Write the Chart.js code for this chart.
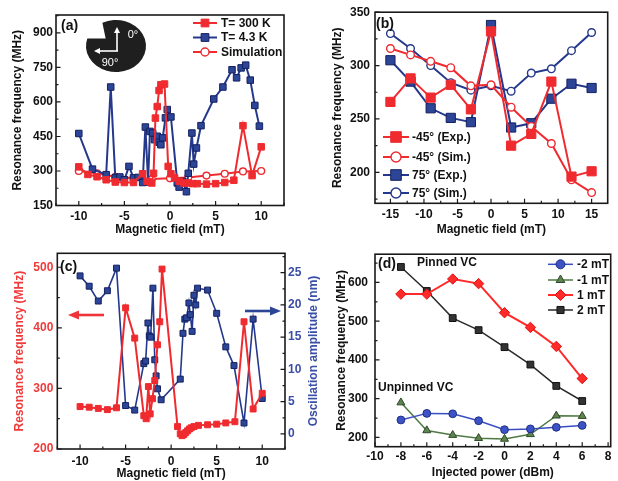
<!DOCTYPE html>
<html><head><meta charset="utf-8">
<script src="https://cdn.jsdelivr.net/npm/chart.js@4.4.1/dist/chart.umd.min.js"></script>
<style>
html,body{margin:0;padding:0;background:#fff;}
#wrap{position:relative;width:618px;height:481px;overflow:hidden;background:#fff;}
canvas{position:absolute;}
</style></head><body>
<div id="wrap">
<canvas id="ca"></canvas><canvas id="cb"></canvas><canvas id="cc"></canvas><canvas id="cd"></canvas>
</div>
<script>
// ---------- DATA ----------
// (a)
const a300X = [-10,-9,-8,-7,-6,-5,-4,-3,-2.5,-2,-1.8,-1.6,-1.4,-1.2,-1.0,-0.6,-0.2,0.1,0.5,1.0,1.5,2.0,2.5,3.0,4.0,5.0,6.0,7.0,8.0,9.0,10.0];
const a300Y = [318,285,275,262,252,250,250,288,255,248,290,530,580,650,675,678,320,288,270,255,248,248,245,245,243,245,250,260,497,280,405];
const a43X = [-10,-8.5,-7,-6.5,-6,-5.5,-5,-4.5,-4,-3.5,-3,-2.7,-2.4,-2.2,-1.9,-1.7,-1.4,-1.2,-1.0,-0.8,-0.5,-0.3,0.1,0.8,1.0,1.4,1.8,2.0,2.4,2.6,2.9,3.4,4.8,5.8,6.8,7.3,7.8,8.3,8.8,9.3,9.8];
const a43Y = [463,308,284,665,270,274,262,320,270,272,250,491,252,472,465,436,451,425,414,444,531,567,535,248,230,255,210,290,465,330,400,497,613,665,740,705,748,760,695,585,495];
const aSimX = [-10,-8,-6,-4,-2,0,2,4,6,8,10];
const aSimY = [300,290,275,268,265,268,272,280,288,298,300];
const aXTicks = [-10,-5,0,5,10];
const aYTicks = [150,300,450,600,750,900];
// (b)
const bX = [-15,-12,-9,-6,-3,0,3,6,9,12,15];
const bExpM45 = [266,288,270,282,259,332,225,236,285,196,201];
const bSimM45 = [316,310,304,298,281,282,261,243,227,193,181];
const bExp75 = [305,285,260,251,247,338,242,246,269,283,279];
const bSim75 = [330,316,300,284,277,281,276,293,297,314,331];
const bXTicks = [-15,-10,-5,0,5,10,15];
const bYTicks = [200,250,300,350];
// (c)
const cFreqX = [-10,-9,-8,-7,-6,-5,-4,-3,-2.75,-2.5,-2.3,-2.05,-1.8,-1.5,-1.25,-1.0,0.7,1.0,1.2,1.4,1.6,1.8,2.0,2.2,2.5,3.0,4.0,5.0,6.0,7.0,8.0,9.0,10.0];
const cFreqY = [270,269,267,265,268,433,383,255,250,303,258,283,313,372,410,497,237,225,222,224,227,230,233,235,237,239,240,241,243,245,410,266,292];
const cAmpX = [-10,-9,-8,-7,-6,-5,-4,-3,-2.8,-2.55,-2.4,-2.25,-2.0,-1.8,-1.65,-1.5,-1.1,1.0,1.3,1.5,1.7,1.95,2.1,2.3,2.5,2.7,2.9,4.0,5.0,6.0,6.9,8.0,9.0,10.0];
const cAmpY = [24.5,22.9,20.6,22.2,25.7,4.4,3.7,10.9,11.3,17.2,15.2,15.0,22.6,11.5,9.0,7.0,5.3,8.5,15.6,17.8,18.0,20.3,18.5,15.9,21.5,20.0,22.6,22.3,18.7,13.5,10.6,1.7,17.8,5.5];
const cXTicks = [-10,-5,0,5,10];
const cYTicks = [200,300,400,500];
const cY2Ticks = [0,5,10,15,20,25];
// (d)
const dX = [-8,-6,-4,-2,0,2,4,6];
const dM2 = [245,262,261,243,220,222,226,231];
const dM1 = [290,218,206,198,196,208,256,255];
const dP1 = [570,570,609,597,522,484,435,352];
const dP2 = [640,578,508,477,433,388,333,294];
const dXTicks = [-10,-8,-6,-4,-2,0,2,4,6,8];
const dYTicks = [200,300,400,500,600];

// ---------- STYLE ----------
const FF = '"Liberation Sans", Arial, sans-serif';
Chart.defaults.font.family = FF;
Chart.defaults.font.weight = 'bold';
Chart.defaults.font.size = 12;
Chart.defaults.color = '#111';
Chart.defaults.animation = false;

const RED = '#ef2b30', NAVY = '#24388c', NAVYF = '#2c4597';

function pts(xs, ys){ return xs.map((x,i)=>({x:x, y:ys[i]})); }

function axis(o){
  return {
    type:'linear', position:o.position, min:o.min, max:o.max,
    grid:{display:false, drawTicks:false}, border:{display:false},
    ticks:{padding:o.pad, color:o.color||'#111', font:{size:12, weight:'bold'}, maxRotation:0, autoSkip:false,
      callback:v=>String(v)},
    title:{display:!!o.title, text:o.title||'', color:o.titleColor||'#111', font:{size:12, weight:'bold'}, padding:o.titlePad||0},
    afterBuildTicks:s=>{ s.ticks = o.ticks.map(v=>({value:v})); },
    afterFit:s=>{ if(o.width!=null) s.width=o.width; if(o.height!=null) s.height=o.height; }
  };
}

function inTicks(ctx, scale, a){
  const vals = scale.ticks.map(t=>t.value);
  const step = vals[1]-vals[0];
  const all = [];
  let v0 = vals[0];
  while (v0 - step/2 >= scale.min - 1e-9) v0 -= step/2;
  for (let v=v0; v<=scale.max+1e-9; v+=step/2){
    const major = vals.some(t=>Math.abs(t-v)<1e-6);
    all.push({v, major});
  }
  ctx.beginPath();
  all.forEach(t=>{
    const L = t.major?4.5:2.5;
    const p = scale.getPixelForValue(t.v);
    if (scale.position==='bottom'){ ctx.moveTo(p,a.bottom); ctx.lineTo(p,a.bottom-L); }
    else if (scale.position==='left'){ ctx.moveTo(a.left,p); ctx.lineTo(a.left+L,p); }
    else if (scale.position==='right'){ ctx.moveTo(a.right,p); ctx.lineTo(a.right-L,p); }
  });
  ctx.stroke();
}

function arrow(ctx, x0, y0, x1, y1, color, w, hl, hw){
  const ang = Math.atan2(y1-y0, x1-x0);
  const bx = x1 - hl*Math.cos(ang), by = y1 - hl*Math.sin(ang);
  ctx.save();
  ctx.strokeStyle=color; ctx.fillStyle=color; ctx.lineWidth=w;
  ctx.beginPath(); ctx.moveTo(x0,y0); ctx.lineTo(bx,by); ctx.stroke();
  ctx.beginPath();
  ctx.moveTo(x1,y1);
  ctx.lineTo(bx + hw/2*Math.sin(ang), by - hw/2*Math.cos(ang));
  ctx.lineTo(bx - hw/2*Math.sin(ang), by + hw/2*Math.cos(ang));
  ctx.closePath(); ctx.fill();
  ctx.restore();
}

const decor = {
  id:'decor',
  afterDatasetsDraw(chart, args, o){
    const ctx = chart.ctx, a = chart.chartArea;
    ctx.save();
    ctx.strokeStyle='#1a1a1a'; ctx.lineWidth=1.6;
    ctx.strokeRect(a.left, a.top, a.right-a.left, a.bottom-a.top);
    ctx.lineWidth=1.2;
    Object.values(chart.scales).forEach(s=>inTicks(ctx, s, a));
    (o.legend||[]).forEach(e=>{
      const ds = chart.data.datasets[e.ds];
      ctx.strokeStyle = ds.borderColor; ctx.lineWidth = ds.borderWidth;
      ctx.beginPath(); ctx.moveTo(e.x0,e.y); ctx.lineTo(e.x1,e.y); ctx.stroke();
      ctx.fillStyle = ds.pointBackgroundColor; ctx.strokeStyle = ds.pointBorderColor;
      ctx.lineWidth = ds.pointBorderWidth;
      Chart.helpers.drawPoint(ctx, {pointStyle:ds.pointStyle, radius:e.r||ds.pointRadius, rotation:0, borderWidth:ds.pointBorderWidth}, (e.x0+e.x1)/2, e.y);
      ctx.fillStyle = e.color||'#111';
      ctx.font = 'bold 12px '+FF; ctx.textAlign='left'; ctx.textBaseline='middle';
      ctx.fillText(e.text, e.tx, e.y+0.5);
    });
    (o.texts||[]).forEach(t=>{
      ctx.save();
      ctx.fillStyle=t.color||'#111';
      ctx.font=(t.weight||'bold')+' '+(t.size||12)+'px '+FF;
      ctx.textAlign=t.align||'left'; ctx.textBaseline='middle';
      ctx.translate(t.x,t.y); if(t.rot) ctx.rotate(t.rot);
      ctx.fillText(t.text,0,0);
      ctx.restore();
    });
    if (o.extra) o.extra(ctx, chart);
    ctx.restore();
  }
};

function make(id, g, cfg){
  const cv = document.getElementById(id);
  cv.width=g.w; cv.height=g.h;
  cv.style.left=g.left+'px'; cv.style.top=g.top+'px';
  cv.style.width=g.w+'px'; cv.style.height=g.h+'px';
  cfg.options.responsive=false;
  cfg.options.devicePixelRatio=1;
  cfg.options.layout.autoPadding=false;
  cfg.options.plugins.legend={display:false};
  cfg.options.plugins.tooltip={enabled:false};
  cfg.plugins=[decor];
  return new Chart(cv, cfg);
}

function series(xs, ys, o){
  return Object.assign({
    data:pts(xs,ys), showLine:true, borderColor:o.color, borderWidth:o.lw||2,
    pointStyle:o.style||'rect', pointRadius:o.r||4.5, pointBackgroundColor:o.fill||o.color,
    pointBorderColor:o.pb||o.color, pointBorderWidth:o.pbw==null?1:o.pbw, tension:0, clip:false
  }, o.extraDs||{});
}

// ---------- (a) ----------
make('ca', {left:0, top:0, w:305, h:240}, {
  type:'scatter',
  data:{datasets:[
    series(a300X, a300Y, {color:RED, r:4.6}),
    series(a43X, a43Y, {color:NAVY, fill:NAVYF, pb:'#142060', r:4.6}),
    series(aSimX, aSimY, {color:RED, style:'circle', fill:'#fff', r:3.4, pbw:1.4})
  ]},
  options:{
    layout:{padding:{left:0, top:15, right:21, bottom:0}},
    scales:{
      x:axis({position:'bottom', min:-12.5, max:12.5, height:34.5, pad:3.5, ticks:aXTicks, title:'Magnetic field (mT)', titlePad:{top:0,bottom:3.5}}),
      y:axis({position:'left', min:150, max:978, width:56, pad:3, ticks:aYTicks, title:'Resonance frequency (MHz)', titlePad:{top:10.8,bottom:0}})
    },
    plugins:{decor:{
      legend:[
        {ds:0, x0:193, x1:217, y:23, tx:221, text:'T= 300 K', r:5.5},
        {ds:1, x0:193, x1:217, y:37.5, tx:221, text:'T= 4.3 K', r:5.5},
        {ds:2, x0:193, x1:217, y:52, tx:221, text:'Simulation', r:4}
      ],
      texts:[{text:'(a)', x:61, y:26, size:14}],
      extra:(ctx)=>{
        const cx=116, cy=46, rx=30, ry=26;
        const s1=197*Math.PI/180, s2=243*Math.PI/180, mid=220*Math.PI/180;
        ctx.beginPath();
        ctx.moveTo(cx+0.45*rx*Math.cos(mid), cy+0.45*ry*Math.sin(mid));
        ctx.ellipse(cx, cy, rx, ry, 0, s2, s1+2*Math.PI, false);
        ctx.closePath();
        ctx.fillStyle='#1f1f1f'; ctx.fill();
        arrow(ctx, 117, 51, 117, 27, '#fff', 1.6, 6, 6);
        arrow(ctx, 118, 51, 94, 51, '#fff', 1.6, 6, 6);
        ctx.fillStyle='#fff'; ctx.font='11px '+FF; ctx.textAlign='center'; ctx.textBaseline='middle';
        ctx.fillText('0\u00b0', 133, 35);
        ctx.fillText('90\u00b0', 110, 63);
      }
    }}
  }
});

// ---------- (b) ----------
make('cb', {left:305, top:0, w:313, h:240}, {
  type:'scatter',
  data:{datasets:[
    series(bX, bExpM45, {color:RED, r:6.5}),
    series(bX, bSimM45, {color:RED, style:'circle', fill:'#fff', r:3.8, pbw:1.4}),
    series(bX, bExp75, {color:NAVY, fill:NAVYF, pb:'#142060', r:6.5}),
    series(bX, bSim75, {color:NAVY, style:'circle', fill:'#fff', r:3.8, pbw:1.4})
  ]},
  options:{
    layout:{padding:{left:0, top:12, right:10.3, bottom:0}},
    scales:{
      x:axis({position:'bottom', min:-17.3, max:17.4, height:36.7, pad:4, ticks:bXTicks, title:'Magnetic field (mT)', titlePad:{top:0,bottom:3.5}}),
      y:axis({position:'left', min:171, max:350, width:70, pad:5, ticks:bYTicks, title:'Resonance frequency (MHz)', titlePad:{top:25.8,bottom:0}})
    },
    plugins:{decor:{
      legend:[
        {ds:0, x0:78, x1:104, y:137, tx:107, text:'-45\u00b0 (Exp.)', r:7.5},
        {ds:1, x0:78, x1:104, y:157, tx:107, text:'-45\u00b0 (Sim.)', r:5},
        {ds:2, x0:78, x1:104, y:175, tx:107, text:'75\u00b0 (Exp.)', r:7.5},
        {ds:3, x0:78, x1:104, y:193, tx:107, text:'75\u00b0 (Sim.)', r:5}
      ],
      texts:[{text:'(b)', x:71, y:24, size:14}]
    }}
  }
});

// ---------- (c) ----------
make('cc', {left:0, top:240, w:330, h:241}, {
  type:'scatter',
  data:{datasets:[
    series(cFreqX, cFreqY, {color:RED, r:4.2, extraDs:{yAxisID:'y'}}),
    series(cAmpX, cAmpY, {color:NAVY, fill:NAVYF, pb:'#142060', r:4.2, lw:1.6, extraDs:{yAxisID:'y2'}})
  ]},
  options:{
    layout:{padding:{left:0, top:13.3, right:0, bottom:0}},
    scales:{
      x:axis({position:'bottom', min:-12.5, max:12.5, height:32, pad:5, ticks:cXTicks, title:'Magnetic field (mT)', titlePad:{top:0,bottom:0}}),
      y:axis({position:'left', min:200, max:523, width:57.3, pad:4, color:'#ef3a3a', ticks:cYTicks, title:'Resonance frequency (MHz)', titleColor:'#ef3a3a', titlePad:{top:12.8,bottom:0}}),
      y2:axis({position:'right', min:-2.33, max:28, width:45, pad:3, color:'#3b4ea6', ticks:cY2Ticks})
    },
    plugins:{decor:{
      texts:[
        {text:'(c)', x:60, y:27, size:14},
        {text:'Oscillation amplitude (nm)', x:314, y:111, color:'#3b4ea6', align:'center', rot:-Math.PI/2}
      ],
      extra:(ctx)=>{
        arrow(ctx, 104, 75, 68, 75, '#f0353a', 2.6, 11, 9);
        arrow(ctx, 245, 71, 281, 71, '#2c4597', 2.6, 11, 9);
      }
    }}
  }
});

// ---------- (d) ----------
make('cd', {left:318, top:240, w:300, h:241}, {
  type:'scatter',
  data:{datasets:[
    series(dX, dM2, {color:'#3a4ec0', fill:'#3d52c4', pb:'#1f2f85', style:'circle', r:3.9, lw:1.5}),
    series(dX, dM1, {color:'#4f7a44', fill:'#5f8350', pb:'#2f4a28', style:'triangle', r:4.6, lw:1.5}),
    series(dX, dP1, {color:'#ff2a2a', fill:'#ff2a2a', pb:'#e01010', style:'rectRot', r:5.2, lw:2}),
    series(dX, dP2, {color:'#2a2a2a', fill:'#333', pb:'#111', style:'rect', r:4.8, lw:1.5})
  ]},
  options:{
    layout:{padding:{left:0, top:13.3, right:7.3, bottom:0}},
    scales:{
      x:axis({position:'bottom', min:-10, max:8.2, height:34.3, pad:3, ticks:dXTicks, title:'Injected power (dBm)', titlePad:{top:0,bottom:1.5}}),
      y:axis({position:'left', min:176, max:673, width:57, pad:7, ticks:dYTicks, title:'Resonance frequency (MHz)', titlePad:{top:16.5,bottom:0}})
    },
    plugins:{decor:{
      legend:[
        {ds:0, x0:230, x1:255, y:24.3, tx:259, text:'-2 mT', r:4.5},
        {ds:1, x0:230, x1:255, y:40, tx:259, text:'-1 mT', r:5},
        {ds:2, x0:230, x1:255, y:55, tx:259, text:'1 mT', r:5.5},
        {ds:3, x0:230, x1:255, y:70, tx:259, text:'2 mT', r:5}
      ],
      texts:[
        {text:'(d)', x:60, y:24, size:14},
        {text:'Pinned VC', x:99, y:23},
        {text:'Unpinned VC', x:60, y:148}
      ]
    }}
  }
});
</script>
</body></html>
